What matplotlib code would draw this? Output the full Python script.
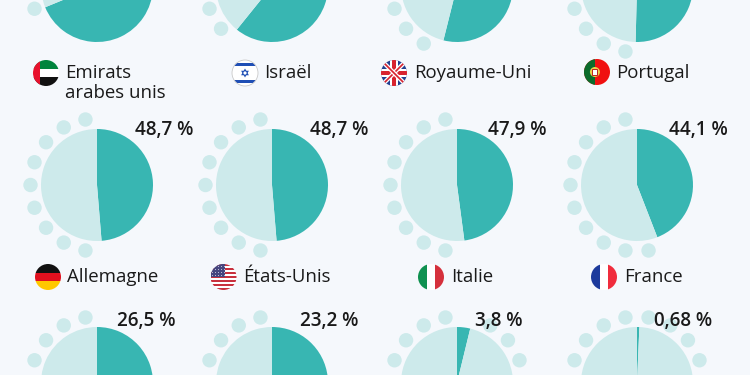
import numpy as np
import matplotlib
matplotlib.use("Agg")
import matplotlib.pyplot as plt
from matplotlib.patches import Circle, Rectangle, Polygon

plt.rcParams['font.family'] = ['Open Sans', 'DejaVu Sans']

# values (top row has no visible label)
pays = ["Emirats\narabes unis", "Israël", "Royaume-Uni", "Portugal",
        "Allemagne", "États-Unis", "Italie", "France",
        None, None, None, None]
valeurs = [68.8, 60.8, 53.9, 50.4, 48.7, 48.7, 47.9, 44.1, 26.5, 23.2, 3.8, 0.68]
etiquettes = [None, None, None, None, "48,7 %", "48,7 %", "47,9 %", "44,1 %",
              "26,5 %", "23,2 %", "3,8 %", "0,68 %"]
drapeaux = ["ae", "il", "gb", "pt", "de", "us", "it", "fr", None, None, None, None]

centres_x = [97, 272, 457, 637]
centres_y = [-14, 185, 383]
rayon = 56
etiq_x = [135, 310, 488, 669, 117, 300, 475, 654]
etiq_y = [129.5, 129.5, 129.5, 129.5, 321, 321, 321, 321]
flag_x = [46, 245, 394, 597, 48, 223.5, 431, 604]
flag_y = [73, 73, 73, 72, 277, 277, 277, 277]
nom_x = [65, 264.5, 414, 616, 67, 243.5, 451, 624]

TEAL = "#38b6b2"
CLAIR = "#cdeaeb"
FOND = "#f5f8fc"
TEXTE = "#1a1a1a"
H = 375

fig = plt.figure(figsize=(7.5, 3.75), dpi=100, facecolor=FOND)
ax = fig.add_axes([0, 0, 1, 1])


def rect(cercle, x, y, w, h, color):
    p = Rectangle((x, y), w, h, color=color, lw=0, zorder=5)
    ax.add_patch(p)
    p.set_clip_path(cercle)


def poly(cercle, pts, color):
    p = Polygon(pts, closed=True, color=color, lw=0, zorder=6)
    ax.add_patch(p)
    p.set_clip_path(cercle)


def drapeau(code, cx, py, r=13):
    cy = H - py
    fondc = Circle((cx, cy), r, fc="white", ec="none", zorder=4)
    ax.add_patch(fondc)
    x0, y0, d = cx - r, cy - r, 2 * r
    if code == "ae":
        rect(fondc, x0, y0 + 2 * d / 3, d, d / 3, "#00843d")
        rect(fondc, x0, y0, d, d / 3, "#111111")
        rect(fondc, x0, y0, d * 0.27, d, "#e8112d")
    elif code == "il":
        rect(fondc, x0, y0 + d * 0.76, d, d * 0.12, "#1f4fb5")
        rect(fondc, x0, y0 + d * 0.12, d, d * 0.12, "#1f4fb5")
        a = np.radians([90, 210, 330])
        poly(fondc, np.c_[cx + 4.5 * np.cos(a), cy + 4.5 * np.sin(a)], "#1f4fb5")
        poly(fondc, np.c_[cx + 4.5 * np.cos(a + np.pi), cy + 4.5 * np.sin(a + np.pi)], "#1f4fb5")
        ax.add_patch(Circle((cx, cy), 1.6, fc="white", ec="none", zorder=7))
        ax.add_patch(Circle((cx, cy), r, fc="none", ec="#c9c9c9", lw=0.6, zorder=7))
    elif code == "gb":
        rect(fondc, x0, y0, d, d, "#23408f")
        for s in (1, -1):
            poly(fondc, [(x0, cy - s * r + s * 3), (x0 + 3, cy - s * r),
                         (x0 + d, cy + s * r - s * 3), (x0 + d - 3, cy + s * r)], "white")
            poly(fondc, [(x0, cy - s * r + s * 1.2), (x0 + 1.2, cy - s * r),
                         (x0 + d, cy + s * r - s * 1.2), (x0 + d - 1.2, cy + s * r)], "#d8232f")
        rect(fondc, cx - 4, y0, 8, d, "white")
        rect(fondc, x0, cy - 4, d, 8, "white")
        rect(fondc, cx - 2.3, y0, 4.6, d, "#d8232f")
        rect(fondc, x0, cy - 2.3, d, 4.6, "#d8232f")
    elif code == "pt":
        rect(fondc, x0, y0, d, d, "#f01010")
        rect(fondc, x0, y0, d * 0.42, d, "#0b6b2b")
        ax.add_patch(Circle((x0 + d * 0.42, cy), 5, fc="#e8d44a", ec="none", zorder=6))
        ax.add_patch(Rectangle((x0 + d * 0.42 - 2.5, cy - 3), 5, 6, fc="white", ec="#c02020", lw=0.7, zorder=7))
    elif code == "de":
        rect(fondc, x0, y0 + 2 * d / 3, d, d / 3, "#111111")
        rect(fondc, x0, y0 + d / 3, d, d / 3, "#e0101e")
        rect(fondc, x0, y0, d, d / 3, "#ffc800")
    elif code == "us":
        for i in range(13):
            rect(fondc, x0, y0 + i * d / 13, d, d / 13, "#c8313e" if i % 2 == 0 else "white")
        rect(fondc, x0, cy, d * 0.55, r, "#46467f")
        for sx in np.arange(x0 + 2, x0 + d * 0.55, 3):
            for sy in np.arange(cy + 1.5, cy + r, 3):
                p = Circle((sx, sy), 0.5, fc="#d8d8ea", ec="none", zorder=7)
                ax.add_patch(p)
                p.set_clip_path(fondc)
    elif code == "it":
        rect(fondc, x0, y0, d / 3, d, "#0f9150")
        rect(fondc, x0 + 2 * d / 3, y0, d / 3, d, "#d5303c")
    elif code == "fr":
        rect(fondc, x0, y0, d / 3, d, "#1c3a9c")
        rect(fondc, x0 + 2 * d / 3, y0, d / 3, d, "#f02c3c")


for i, v in enumerate(valeurs):
    cx = centres_x[i % 4]
    cy = H - centres_y[i // 4]
    # the slice starts at 12 o'clock and runs clockwise
    ax.pie([v, 100 - v], colors=[TEAL, CLAIR], center=(cx, cy), radius=rayon,
           startangle=90, counterclock=False, wedgeprops=dict(lw=0))
    # small dots : one every 20 degrees, only past the teal slice
    for ang in np.arange(10, 360, 20):
        if ang > v * 3.6:
            a = np.radians(ang)
            ax.add_patch(Circle((cx + 66.5 * np.sin(a), cy + 66.5 * np.cos(a)), 7.2,
                                fc=CLAIR, ec="none", zorder=1))

lab = [e for e in etiquettes if e]
for e, x, y in zip(lab, etiq_x, etiq_y):
    ax.text(x, H - y, e, fontsize=13.6, fontweight=600, color=TEXTE,
            ha="left", va="center", zorder=10)

noms = [n for n in pays if n]
codes = [c for c in drapeaux if c]
for n, c, fx, fy, nx in zip(noms, codes, flag_x, flag_y, nom_x):
    drapeau(c, fx, fy)
    ax.text(nx, H - fy + 8.5, n, fontsize=13.4, color=TEXTE, ha="left", va="top",
            linespacing=1.13, zorder=10)

ax.set_xlim(0, 750)
ax.set_ylim(0, 375)
ax.set_aspect("equal")
ax.axis("off")

fig.savefig("out.png", dpi=100, facecolor=FOND)
